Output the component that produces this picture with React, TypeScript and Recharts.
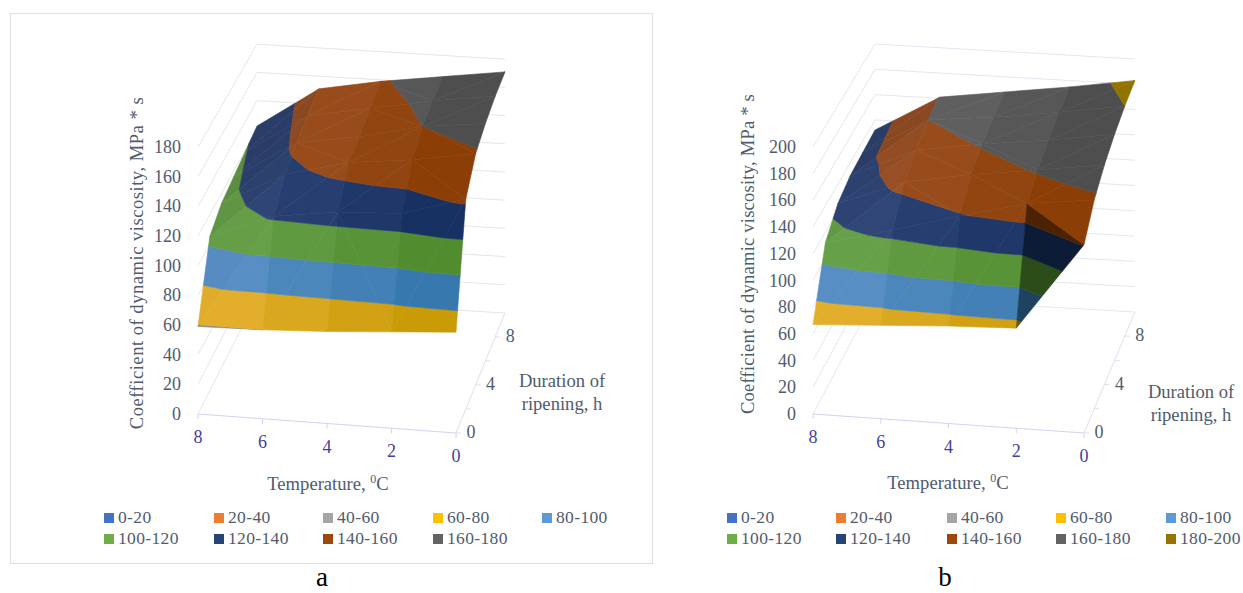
import React from "react";
import { ScatterChart, Scatter, XAxis, YAxis } from "recharts";

// temperature and duration of the surface grid (series axis has one unlabelled step after 8)
const TEMPERATURES = [0, 2, 4, 6, 8];
const DURATIONS = [0, 2, 4, 6, 8, 10];
const TEMP_TICKS = [8, 6, 4, 2, 0];
const DURATION_TICKS = [0, 2, 4, 6, 8];

// viscosity per temperature, one value per duration
const A_T0 = [68, 143, 159, 165, 169, 171];
const A_T2 = [65, 130, 152, 160, 163, 165];
const A_T4 = [62, 128, 147, 150, 155, 159];
const A_T6 = [60, 122, 136, 143, 147, 151];
const A_T8 = [59, 105, 113, 116, 119, 122];

const B_T0 = [141, 158, 168, 175, 180, 183];
const B_T2 = [75, 152, 161, 167, 172, 175];
const B_T4 = [73, 139, 154, 161, 165, 168];
const B_T6 = [70, 125, 145, 153, 160, 161];
const B_T8 = [67, 112, 125, 130, 131, 132];

const LEGEND_A = ["0-20", "20-40", "40-60", "60-80", "80-100", "100-120", "120-140", "140-160", "160-180"];
const LEGEND_B = [...LEGEND_A, "180-200"];
const LEGEND_COLORS = ["#4472C4", "#ED7D31", "#A5A5A5", "#FFC000", "#5B9BD5", "#70AD47", "#264478", "#9E480E", "#636363", "#997300"];

const FACE_LIGHT = ["#4472C4", "#ED7D31", "#8f8f8f", "#E6B132", "#5C91C6", "#6AA34C", "#34497A", "#A1562C", "#6C6C6C", "#B08A00"];
const FACE_DARK = ["#34589A", "#C0621F", "#777777", "#C59800", "#3275AB", "#4D892B", "#122E5E", "#883A00", "#4A4A4A", "#8F7000"];

const FONT = "'Liberation Serif', 'Times New Roman', serif";
const TEXT = "#4F5B6E";
const TICK_BLUE = "#3F3FA0";

type Pt = { x: number; y: number; label?: string };
type V3 = [number, number, number];

const lerp = (a: number, b: number, k: number) => a + (b - a) * k;

interface PanelCfg {
  x0: number;
  width: number;
  fl: number[];
  fr: number[];
  bl: number[];
  br: number[];
  sFront: number;
  sBack: number;
  zMax: number;
  rows: number[][];
  wall: string;
}

const PANEL_A: PanelCfg = {
  x0: 0, width: 660,
  fl: [198, 414], fr: [456, 433], bl: [257, 298], br: [505, 313],
  sFront: 1.483, sBack: 1.41, zMax: 180,
  rows: [A_T0, A_T2, A_T4, A_T6, A_T8],
  wall: "#E6E6E6",
};

const PANEL_B: PanelCfg = {
  x0: 660, width: 583,
  fl: [813, 414], fr: [1084, 433], bl: [875, 297], br: [1135, 312],
  sFront: 1.335, sBack: 1.265, zMax: 200,
  rows: [B_T0, B_T2, B_T4, B_T6, B_T8],
  wall: "#E4E7F0",
};

function project(p: PanelCfg, t: number, d: number, z: number): Pt {
  const u = (8 - t) / 8;
  const v = d / 10;
  const bx = lerp(lerp(p.fl[0], p.fr[0], u), lerp(p.bl[0], p.br[0], u), v);
  const by = lerp(lerp(p.fl[1], p.fr[1], u), lerp(p.bl[1], p.br[1], u), v);
  return { x: bx, y: by - z * lerp(p.sFront, p.sBack, v) };
}

// keep the part of a polygon on one side of a height
function clip(poly: V3[], level: number, above: boolean): V3[] {
  const out: V3[] = [];
  poly.forEach((a, i) => {
    const b = poly[(i + 1) % poly.length];
    const inA = above ? a[2] >= level : a[2] <= level;
    const inB = above ? b[2] >= level : b[2] <= level;
    if (inA) out.push(a);
    if (inA !== inB) {
      const k = (level - a[2]) / (b[2] - a[2]);
      out.push([lerp(a[0], b[0], k), lerp(a[1], b[1], k), level]);
    }
  });
  return out;
}

function mixHex(a: string, b: string, k: number, gain: number) {
  const ch = (s: string, i: number) => parseInt(s.slice(1 + i * 2, 3 + i * 2), 16);
  const parts = [0, 1, 2].map((i) => Math.round(lerp(ch(a, i), ch(b, i), k) * gain));
  return `rgb(${parts.join(",")})`;
}

const area = (pts: Pt[]) =>
  pts.reduce((s, a, i) => {
    const b = pts[(i + 1) % pts.length];
    return s + a.x * b.y - b.x * a.y;
  }, 0);

// slope of a triangle along temperature, used as a rough lighting term
function tempSlope(tri: V3[]) {
  const [a, b, c] = tri;
  const den = (b[0] - a[0]) * (c[1] - a[1]) - (c[0] - a[0]) * (b[1] - a[1]);
  return ((b[2] - a[2]) * (c[1] - a[1]) - (c[2] - a[2]) * (b[1] - a[1])) / den;
}

function lightGain(slope: number) {
  if (slope > 0) return 1 - Math.min(0.35, 0.025 * slope);
  if (slope < -8) return 1 - Math.min(0.45, (-slope - 8) * 0.02);
  return 1;
}

function surfacePolygons(p: PanelCfg) {
  const polys: { pts: Pt[]; fill: string }[] = [];
  for (let j = DURATIONS.length - 2; j >= 0; j--) {
    for (let i = TEMPERATURES.length - 2; i >= 0; i--) {
      const corner = (a: number, b: number): V3 => [TEMPERATURES[a], DURATIONS[b], p.rows[a][b]];
      const a = corner(i + 1, j);
      const b = corner(i + 1, j + 1);
      const c = corner(i, j + 1);
      const e = corner(i, j);
      // the quad folds along its higher diagonal
      const tris: V3[][] = a[2] + c[2] >= b[2] + e[2] ? [[a, b, c], [a, c, e]] : [[a, b, e], [b, c, e]];
      const k = (8 - TEMPERATURES[i] - 1) / 8;
      tris.forEach((tri) => {
        const gain = lightGain(tempSlope(tri));
        for (let band = 0; band < LEGEND_COLORS.length; band++) {
          const part = clip(clip(tri, band * 20, true), band * 20 + 20, false);
          if (part.length < 3) continue;
          const pts = part.map((q) => project(p, q[0], q[1], q[2]));
          if (Math.abs(area(pts)) < 0.01) continue;
          polys.push({ pts: [...pts, pts[0]], fill: mixHex(FACE_LIGHT[band], FACE_DARK[band], k, gain) });
        }
      });
    }
  }
  return polys;
}

const noMark = () => <g />;

function Segment({ data, stroke }: { data: Pt[]; stroke: string }) {
  return <Scatter data={data} line={{ stroke, strokeWidth: 1 }} shape={noMark} isAnimationActive={false} />;
}

const textMark = (fill: string, anchor: string) => (props: any) => (
  <text x={props.cx} y={props.cy} fill={fill} fontFamily={FONT} fontSize={18} textAnchor={anchor} dominantBaseline="central">
    {props.payload.label}
  </text>
);

function Panel({ p }: { p: PanelCfg }) {
  const zTicks: number[] = [];
  for (let z = 0; z <= p.zMax; z += 20) zTicks.push(z);
  const corner = (t: number, d: number, z: number) => project(p, t, d, z);

  const walls: Pt[][] = [];
  zTicks.forEach((z) => {
    walls.push([corner(8, 0, z), corner(8, 10, z)]);
    walls.push([corner(8, 10, z), corner(0, 10, z)]);
  });

  const zLabels = zTicks.map((z) => ({ x: corner(8, 0, z).x - 17, y: corner(8, 0, z).y, label: String(z) }));
  const tempLabels = TEMP_TICKS.map((t) => {
    const c = corner(t, 0, 0);
    return { x: c.x, y: c.y + 23, label: String(t) };
  });
  const durLabels = DURATION_TICKS.filter((d) => d % 4 === 0).map((d) => {
    const c = corner(0, d, 0);
    return { x: c.x + 15, y: c.y - 1, label: String(d) };
  });
  const tempTicks = TEMP_TICKS.map((t) => {
    const c = corner(t, 0, 0);
    return [c, { x: c.x, y: c.y + 5 }];
  });
  const durTicks = DURATION_TICKS.map((d) => {
    const c = corner(0, d, 0);
    return [c, { x: c.x + 5, y: c.y }];
  });

  return (
    <div style={{ position: "absolute", left: p.x0, top: 0 }}>
      <ScatterChart width={p.width} height={593} margin={{ top: 0, right: 0, bottom: 0, left: 0 }}>
        <XAxis type="number" dataKey="x" domain={[p.x0, p.x0 + p.width]} hide />
        <YAxis type="number" dataKey="y" domain={[0, 593]} reversed hide />
        {walls.map((w, i) => (
          <Segment key={`w${i}`} data={w} stroke={p.wall} />
        ))}
        {surfacePolygons(p).map((poly, i) => (
          <Scatter
            key={`s${i}`}
            data={poly.pts}
            line={{ fill: poly.fill, stroke: poly.fill, strokeWidth: 0.6 }}
            shape={noMark}
            isAnimationActive={false}
          />
        ))}
        <Segment data={[corner(8, 0, 0), corner(0, 0, 0)]} stroke="#D2D2F2" />
        <Segment data={[corner(0, 0, 0), corner(0, 10, 0)]} stroke="#DFDFEF" />
        {tempTicks.map((s, i) => (
          <Segment key={`tt${i}`} data={s} stroke="#D2D2F2" />
        ))}
        {durTicks.map((s, i) => (
          <Segment key={`dt${i}`} data={s} stroke="#DFDFEF" />
        ))}
        <Scatter data={zLabels} shape={textMark(TEXT, "end")} isAnimationActive={false} />
        <Scatter data={tempLabels} shape={textMark(TICK_BLUE, "middle")} isAnimationActive={false} />
        <Scatter data={durLabels} shape={textMark(TEXT, "middle")} isAnimationActive={false} />
      </ScatterChart>
    </div>
  );
}

function Title({ x, y, children, rotate, spacing }: { x: number; y: number; children: React.ReactNode; rotate?: boolean; spacing?: number }) {
  return (
    <div
      style={{
        position: "absolute",
        left: x,
        top: y,
        transform: `translate(-50%, -50%)${rotate ? " rotate(-90deg)" : ""}`,
        whiteSpace: "nowrap",
        fontFamily: FONT,
        fontSize: 18.6,
        letterSpacing: spacing ?? 0,
        color: TEXT,
      }}
    >
      {children}
    </div>
  );
}

function LegendBlock({ names, left, cols }: { names: string[]; left: number; cols: number[] }) {
  return (
    <>
      {names.map((name, i) => (
        <div
          key={name}
          style={{
            position: "absolute",
            left: left + cols[i % 5],
            top: i < 5 ? 507 : 528,
            height: 21,
            lineHeight: "21px",
            fontFamily: FONT,
            fontSize: 17.5,
            letterSpacing: 0.35,
            color: TEXT,
            whiteSpace: "nowrap",
          }}
        >
          <span style={{ display: "inline-block", width: 10, height: 10, marginRight: 4, background: LEGEND_COLORS[i] }} />
          {name}
        </div>
      ))}
    </>
  );
}

const Temperature = () => (
  <>
    Temperature, <sup style={{ fontSize: 12, lineHeight: 0 }}>0</sup>C
  </>
);

const caption: React.CSSProperties = {
  position: "absolute",
  transform: "translateX(-50%)",
  fontFamily: FONT,
  fontSize: 27,
  lineHeight: "22px",
  height: 22,
  color: "#000",
};

export default function App() {
  return (
    <div style={{ position: "absolute", left: 0, top: 0, width: 1243, height: 593, background: "#fff", overflow: "hidden" }}>
      <div style={{ position: "absolute", left: 10, top: 13, width: 641, height: 549, border: "1px solid #DDE1E4" }} />
      <Panel p={PANEL_A} />
      <Panel p={PANEL_B} />

      <Title x={137} y={263} rotate spacing={0.5}>Coefficient of dynamic viscosity, MPa * s</Title>
      <Title x={328} y={484}><Temperature /></Title>
      <Title x={562} y={381}>Duration of</Title>
      <Title x={562} y={404}>ripening, h</Title>

      <Title x={748} y={254} rotate spacing={0.2}>Coefficient of dynamic viscosity, MPa * s</Title>
      <Title x={948} y={483}><Temperature /></Title>
      <Title x={1191} y={392}>Duration of</Title>
      <Title x={1191} y={415}>ripening, h</Title>

      <LegendBlock names={LEGEND_A} left={104} cols={[0, 110, 219, 329, 438]} />
      <LegendBlock names={LEGEND_B} left={727} cols={[0, 109, 220, 329, 439]} />

      <div style={{ ...caption, left: 322, top: 566 }}>a</div>
      <div style={{ ...caption, left: 945, top: 566 }}>b</div>
    </div>
  );
}
